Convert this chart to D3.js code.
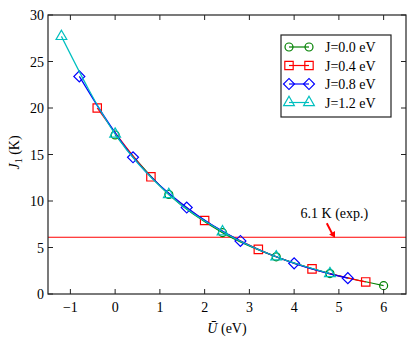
<!DOCTYPE html>
<html>
<head>
<meta charset="utf-8">
<script src="https://cdn.jsdelivr.net/npm/d3@7"></script>
<style>
  body { margin: 0; background: #fff; }
  svg { font-family: "Liberation Serif", "DejaVu Serif", serif; }
</style>
</head>
<body>
<div id="chart"></div>
<script>
// data
const uGreen = [0, 1.2, 2.4, 3.6, 4.8, 6.0];
const jGreen = [17.1, 10.7, 6.6, 4.0, 2.2, 0.9];
const uRed = [-0.4, 0.8, 2.0, 3.2, 4.4, 5.6];
const jRed = [20.0, 12.6, 7.9, 4.8, 2.7, 1.3];
const uBlue = [-0.8, 0.4, 1.6, 2.8, 4.0, 5.2];
const jBlue = [23.4, 14.7, 9.3, 5.7, 3.3, 1.7];
const uCyan = [-1.2, 0, 1.2, 2.4, 3.6, 4.8];
const jCyan = [27.7, 17.2, 10.7, 6.7, 4.0, 2.2];
const seriesNames = ["J=0.0 eV", "J=0.4 eV", "J=0.8 eV", "J=1.2 eV"];
const expValue = 6.1;
const xTicks = [-1, 0, 1, 2, 3, 4, 5, 6];
const yTicks = [0, 5, 10, 15, 20, 25, 30];

const width = 415, height = 343;
const margin = { top: 15, right: 9, bottom: 49, left: 48 };

const series = [
  { name: seriesNames[0], u: uGreen, j: jGreen, color: "#008000", shape: "circle" },
  { name: seriesNames[1], u: uRed, j: jRed, color: "#ff0000", shape: "square" },
  { name: seriesNames[2], u: uBlue, j: jBlue, color: "#0000ff", shape: "diamond" },
  { name: seriesNames[3], u: uCyan, j: jCyan, color: "#00bfbf", shape: "triangle" }
];

const svg = d3.select("#chart").append("svg")
  .attr("width", width)
  .attr("height", height);

const x = d3.scaleLinear().domain([-1.5, 6.5]).range([margin.left, width - margin.right]);
const y = d3.scaleLinear().domain([0, 30]).range([height - margin.bottom, margin.top]);

// marker symbols (diamond = square turned 45deg)
const symbols = {
  circle: d3.symbol().type(d3.symbolCircle).size(50),
  square: d3.symbol().type(d3.symbolSquare).size(70),
  diamond: d3.symbol().type(d3.symbolSquare).size(60),
  triangle: d3.symbol().type(d3.symbolTriangle).size(50)
};
const rot = shape => shape === "diamond" ? " rotate(45)" : "";

// experimental line
svg.append("line")
  .attr("x1", x(-1.5)).attr("x2", x(6.5))
  .attr("y1", y(expValue)).attr("y2", y(expValue))
  .attr("stroke", "#ff0000").attr("stroke-width", 1.2);

// curves
const line = d3.line()
  .x(d => x(d[0]))
  .y(d => y(d[1]))
  .curve(d3.curveMonotoneX);

series.forEach(s => {
  const pts = s.u.map((u, i) => [u, s.j[i]]);
  const g = svg.append("g");
  g.append("path")
    .datum(pts)
    .attr("d", line)
    .attr("fill", "none")
    .attr("stroke", s.color)
    .attr("stroke-width", 1.2);
  g.selectAll("path.m")
    .data(pts)
    .join("path")
    .attr("class", "m")
    .attr("d", symbols[s.shape])
    .attr("transform", d => `translate(${x(d[0])},${y(d[1])})` + rot(s.shape))
    .attr("fill", "none")
    .attr("stroke", s.color)
    .attr("stroke-width", 1.2);
});

// frame and ticks
const frame = svg.append("g");
frame.append("rect")
  .attr("x", margin.left).attr("y", margin.top)
  .attr("width", width - margin.left - margin.right)
  .attr("height", height - margin.top - margin.bottom)
  .attr("fill", "none").attr("stroke", "#222").attr("stroke-width", 1.2);

const tickLen = 5;
xTicks.forEach(t => {
  frame.append("line").attr("x1", x(t)).attr("x2", x(t))
    .attr("y1", y(0)).attr("y2", y(0) - tickLen).attr("stroke", "#222");
  frame.append("line").attr("x1", x(t)).attr("x2", x(t))
    .attr("y1", y(30)).attr("y2", y(30) + tickLen).attr("stroke", "#222");
  frame.append("text")
    .attr("x", x(t)).attr("y", y(0) + 18)
    .attr("text-anchor", "middle")
    .attr("font-size", 14)
    .text(t < 0 ? "\u2212" + Math.abs(t) : t);
});
yTicks.forEach(t => {
  frame.append("line").attr("x1", x(-1.5)).attr("x2", x(-1.5) + tickLen)
    .attr("y1", y(t)).attr("y2", y(t)).attr("stroke", "#222");
  frame.append("line").attr("x1", x(6.5)).attr("x2", x(6.5) - tickLen)
    .attr("y1", y(t)).attr("y2", y(t)).attr("stroke", "#222");
  frame.append("text")
    .attr("x", margin.left - 4).attr("y", y(t) + 5)
    .attr("text-anchor", "end")
    .attr("font-size", 14)
    .text(t);
});

// axis labels
const xl = svg.append("text")
  .attr("x", (margin.left + width - margin.right) / 2)
  .attr("y", height - 10)
  .attr("text-anchor", "middle")
  .attr("font-size", 14);
xl.append("tspan").attr("font-style", "italic").text("U\u0304");
xl.append("tspan").text(" (eV)");

const yl = svg.append("text")
  .attr("transform", `translate(19,${(margin.top + height - margin.bottom) / 2 - 2}) rotate(-90)`)
  .attr("text-anchor", "middle")
  .attr("font-size", 14);
yl.append("tspan").attr("font-style", "italic").text("J");
yl.append("tspan").attr("font-size", 10).attr("dy", 3).text("1");
yl.append("tspan").attr("dy", -3).text(" (K)");

// annotation
svg.append("text")
  .attr("x", x(4.9)).attr("y", y(8.2))
  .attr("text-anchor", "middle")
  .attr("font-size", 14)
  .text("6.1 K (exp.)");
svg.append("line")
  .attr("x1", x(4.73)).attr("y1", y(7.6))
  .attr("x2", x(4.87)).attr("y2", y(6.3))
  .attr("stroke", "#ff0000").attr("stroke-width", 2);
svg.append("path")
  .attr("d", d3.symbol().type(d3.symbolTriangle).size(20))
  .attr("transform", `translate(${x(4.87)},${y(6.3) - 1}) rotate(150)`)
  .attr("fill", "#ff0000");

// legend
const lg = svg.append("g").attr("transform", "translate(281,35)");
lg.append("rect").attr("width", 110).attr("height", 82)
  .attr("fill", "#fff").attr("stroke", "#222").attr("stroke-width", 1.2);
series.forEach((s, i) => {
  const ly = 12 + i * 18.5;
  lg.append("line").attr("x1", 8).attr("x2", 28).attr("y1", ly).attr("y2", ly)
    .attr("stroke", s.color).attr("stroke-width", 1.2);
  [8, 28].forEach(mx => {
    lg.append("path").attr("d", symbols[s.shape])
      .attr("transform", `translate(${mx},${ly})` + rot(s.shape))
      .attr("fill", "none").attr("stroke", s.color).attr("stroke-width", 1.2);
  });
  lg.append("text").attr("x", 44).attr("y", ly + 5)
    .attr("font-size", 14).text(s.name);
});
</script>
</body>
</html>
